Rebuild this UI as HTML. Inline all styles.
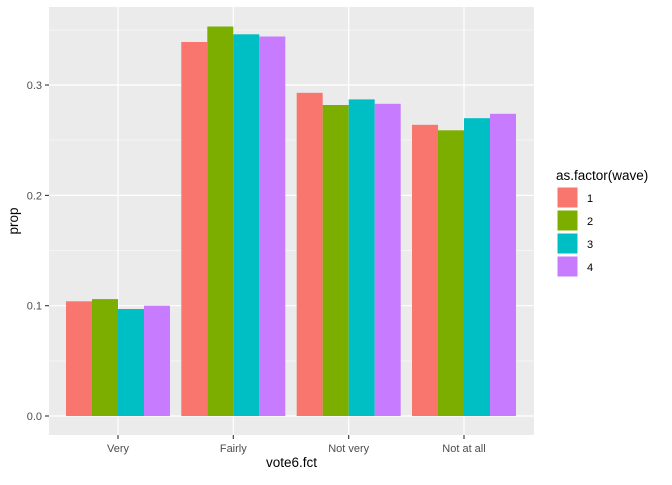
<!DOCTYPE html>
<html><head><style>body{margin:0;background:#fff}</style></head><body>
<svg width="672" height="480" xmlns="http://www.w3.org/2000/svg" font-family="Liberation Sans, sans-serif">
<rect x="49" y="7" width="485" height="428" fill="#EBEBEB"/>
<g stroke="#fff" stroke-width="0.6">
<line x1="49" x2="534" y1="361" y2="361"/><line x1="49" x2="534" y1="250.5" y2="250.5"/>
<line x1="49" x2="534" y1="140" y2="140"/><line x1="49" x2="534" y1="30" y2="30"/>
</g>
<g stroke="#fff" stroke-width="1.2">
<line x1="49" x2="534" y1="416" y2="416"/><line x1="49" x2="534" y1="305.7" y2="305.7"/>
<line x1="49" x2="534" y1="195.4" y2="195.4"/><line x1="49" x2="534" y1="85" y2="85"/>
<line y1="7" y2="435" x1="118" x2="118"/><line y1="7" y2="435" x1="233.3" x2="233.3"/>
<line y1="7" y2="435" x1="348.7" x2="348.7"/><line y1="7" y2="435" x1="464" x2="464"/>
</g>
<g>
<rect x="66" y="301.3" width="26" height="114.7" fill="#F8766D"/>
<rect x="92" y="299.1" width="26" height="116.9" fill="#7CAE00"/>
<rect x="118" y="309" width="26" height="107" fill="#00BFC4"/>
<rect x="144" y="305.7" width="26" height="110.3" fill="#C77CFF"/>
<rect x="181.3" y="42" width="26" height="374" fill="#F8766D"/>
<rect x="207.3" y="26.5" width="26" height="389.5" fill="#7CAE00"/>
<rect x="233.3" y="34.3" width="26" height="381.7" fill="#00BFC4"/>
<rect x="259.3" y="36.5" width="26" height="379.5" fill="#C77CFF"/>
<rect x="296.7" y="92.8" width="26" height="323.2" fill="#F8766D"/>
<rect x="322.7" y="105" width="26" height="311" fill="#7CAE00"/>
<rect x="348.7" y="99.4" width="26" height="316.6" fill="#00BFC4"/>
<rect x="374.7" y="103.8" width="26" height="312.2" fill="#C77CFF"/>
<rect x="412" y="124.8" width="26" height="291.2" fill="#F8766D"/>
<rect x="438" y="130.3" width="26" height="285.7" fill="#7CAE00"/>
<rect x="464" y="118.2" width="26" height="297.8" fill="#00BFC4"/>
<rect x="490" y="113.8" width="26" height="302.2" fill="#C77CFF"/>
</g>
<g stroke="#333" stroke-width="1.1">
<line x1="45" x2="49" y1="416" y2="416"/><line x1="45" x2="49" y1="305.7" y2="305.7"/>
<line x1="45" x2="49" y1="195.4" y2="195.4"/><line x1="45" x2="49" y1="85" y2="85"/>
<line y1="435" y2="439" x1="118" x2="118"/><line y1="435" y2="439" x1="233.3" x2="233.3"/>
<line y1="435" y2="439" x1="348.7" x2="348.7"/><line y1="435" y2="439" x1="464" x2="464"/>
</g>
<g font-size="11" fill="#4D4D4D" text-anchor="end">
<text x="42" y="420">0.0</text><text x="42" y="309.7">0.1</text>
<text x="42" y="199.4">0.2</text><text x="42" y="89">0.3</text>
</g>
<g font-size="11" fill="#4D4D4D" text-anchor="middle">
<text x="118" y="452">Very</text><text x="233.3" y="452">Fairly</text>
<text x="348.7" y="452">Not very</text><text x="464" y="452">Not at all</text>
</g>
<text x="291.5" y="467" font-size="13.5" text-anchor="middle">vote6.fct</text>
<text transform="translate(18,221) rotate(-90)" font-size="13.5" text-anchor="middle">prop</text>
<text x="556" y="180" font-size="13.5">as.factor(wave)</text>
<rect x="557" y="187" width="21" height="21" fill="#F8766D" stroke="#fff"/>
<rect x="557" y="210" width="21" height="21" fill="#7CAE00" stroke="#fff"/>
<rect x="557" y="233" width="21" height="21" fill="#00BFC4" stroke="#fff"/>
<rect x="557" y="256" width="21" height="21" fill="#C77CFF" stroke="#fff"/>
<g font-size="11"><text x="587" y="202">1</text><text x="587" y="225">2</text><text x="587" y="248">3</text><text x="587" y="271">4</text></g>
</svg>
</body></html>
